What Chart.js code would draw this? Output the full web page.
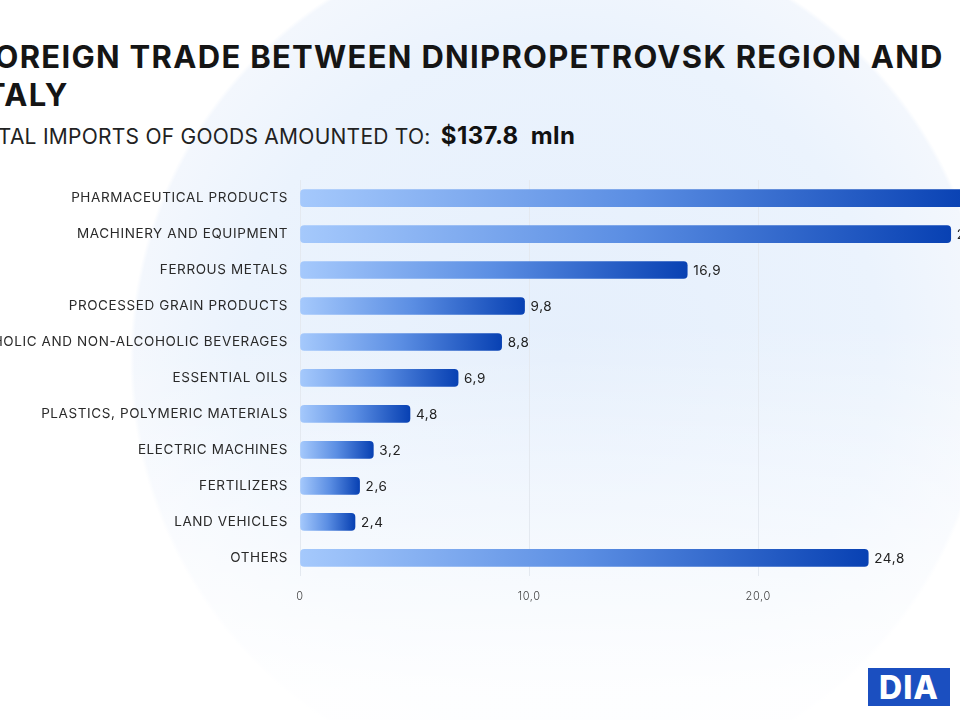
<!DOCTYPE html>
<html>
<head>
<meta charset="utf-8">
<script src="https://cdn.jsdelivr.net/npm/chart.js@4.4.1/dist/chart.umd.min.js"></script>
<style>
  html, body { margin: 0; padding: 0; }
  body {
    width: 960px; height: 720px; overflow: hidden; position: relative;
    font-family: Inter, "Open Sans", sans-serif; color: #1a1a1a;
    background:
      linear-gradient(to bottom, rgba(255,255,255,0) 45%, rgba(255,255,255,0.9) 96%),
      radial-gradient(circle 430px at 560px 360px, #e5effc 0, #ebf3fd 75%, #f3f7fd 99%, #ffffff 100%);
  }
  #title {
    position: absolute; left: -25px; top: 38px; margin: 0;
    font-size: 31px; font-weight: 700; line-height: 38px; letter-spacing: 1.3px; color: #151515;
  }
  #subtitle {
    position: absolute; left: -31px; top: 121px; margin: 0;
    font-size: 21px; font-weight: 400; letter-spacing: 0.25px; color: #222;
  }
  #subtitle b { font-size: 24px; font-weight: 700; margin-left: 4px; letter-spacing: 0.4px; color: #111; }
  #wrap { position: absolute; left: 0; top: 160px; width: 1014px; height: 467px; }
  #logo {
    position: absolute; left: 868px; top: 668px; width: 82px; height: 38px;
    background: #1b4fc0; color: #fff; font-weight: 800; font-size: 32px;
    line-height: 40px; text-align: center; letter-spacing: 1px;
  }
</style>
</head>
<body>
<h1 id="title">FOREIGN TRADE BETWEEN DNIPROPETROVSK REGION AND<br>ITALY</h1>
<p id="subtitle">TOTAL IMPORTS OF GOODS AMOUNTED TO: <b>$137.8&nbsp; mln</b></p>
<div id="wrap"><canvas id="chart"></canvas></div>
<div id="logo">DIA</div>
<script>
// Категорії та значення (млн дол.)
const categories = [
  'PHARMACEUTICAL PRODUCTS',
  'MACHINERY AND EQUIPMENT',
  'FERROUS METALS',
  'PROCESSED GRAIN PRODUCTS',
  'ALCOHOLIC AND NON-ALCOHOLIC BEVERAGES',
  'ESSENTIAL OILS',
  'PLASTICS, POLYMERIC MATERIALS',
  'ELECTRIC MACHINES',
  'FERTILIZERS',
  'LAND VEHICLES',
  'OTHERS'
];
const values = [29.2, 28.4, 16.9, 9.8, 8.8, 6.9, 4.8, 3.2, 2.6, 2.4, 24.8];
const xTicks = [0, 10, 20, 30];

const fmt = v => v === 0 ? '0' : v.toFixed(1).replace('.', ',');

// трохи розрідити літери, як у шрифті оригіналу
const spacing = {
  id: 'spacing',
  beforeUpdate(chart) { chart.ctx.letterSpacing = '0.6px'; },
  beforeDraw(chart) { chart.ctx.letterSpacing = '0.6px'; }
};

// Підписи значень праворуч від смуг
const valueLabels = {
  id: 'valueLabels',
  afterDatasetsDraw(chart) {
    const ctx = chart.ctx;
    const meta = chart.getDatasetMeta(0);
    ctx.save();
    ctx.font = '13.5px Inter, "Open Sans", sans-serif';
    ctx.fillStyle = '#222';
    ctx.textBaseline = 'middle';
    meta.data.forEach((bar, i) => {
      ctx.fillText(fmt(values[i]), bar.x + 6, bar.y + 1);
    });
    ctx.restore();
  }
};

new Chart(document.getElementById('chart'), {
  type: 'bar',
  data: {
    labels: categories,
    datasets: [{
      data: values,
      barThickness: 17,
      borderRadius: 4,
      borderSkipped: false,
      backgroundColor: (c) => {
        const chart = c.chart;
        if (!chart.chartArea || c.dataIndex === undefined) return '#3a72d8';
        const x = chart.scales.x;
        const x0 = x.getPixelForValue(0);
        const x1 = x.getPixelForValue(values[c.dataIndex]);
        const g = chart.ctx.createLinearGradient(x0, 0, x1, 0);
        g.addColorStop(0, '#a5c9fc');
        g.addColorStop(0.5, '#5b8ee3');
        g.addColorStop(1, '#0841b3');
        return g;
      }
    }]
  },
  options: {
    indexAxis: 'y',
    responsive: true,
    maintainAspectRatio: false,
    animation: false,
    layout: { padding: { top: 0, bottom: 10, left: 0, right: 0 } },
    plugins: { legend: { display: false }, tooltip: { enabled: false } },
    scales: {
      x: {
        min: 0, max: 30,
        afterBuildTicks: (s) => { s.ticks = xTicks.map(v => ({ value: v })); },
        grid: { color: '#e4e9f0', drawTicks: false },
        border: { display: false },
        ticks: {
          padding: 14,
          color: '#444',
          font: { family: 'Inter, "Open Sans", sans-serif', size: 11, weight: 300 },
          callback: (v) => fmt(v)
        }
      },
      y: {
        afterFit: (s) => { s.width = 300; },
        grid: { display: false, drawTicks: false },
        border: { display: false },
        ticks: {
          padding: 12,
          color: '#2a2a2a',
          font: { family: 'Inter, "Open Sans", sans-serif', size: 13.5 }
        }
      }
    }
  },
  plugins: [spacing, valueLabels]
});
</script>
</body>
</html>
